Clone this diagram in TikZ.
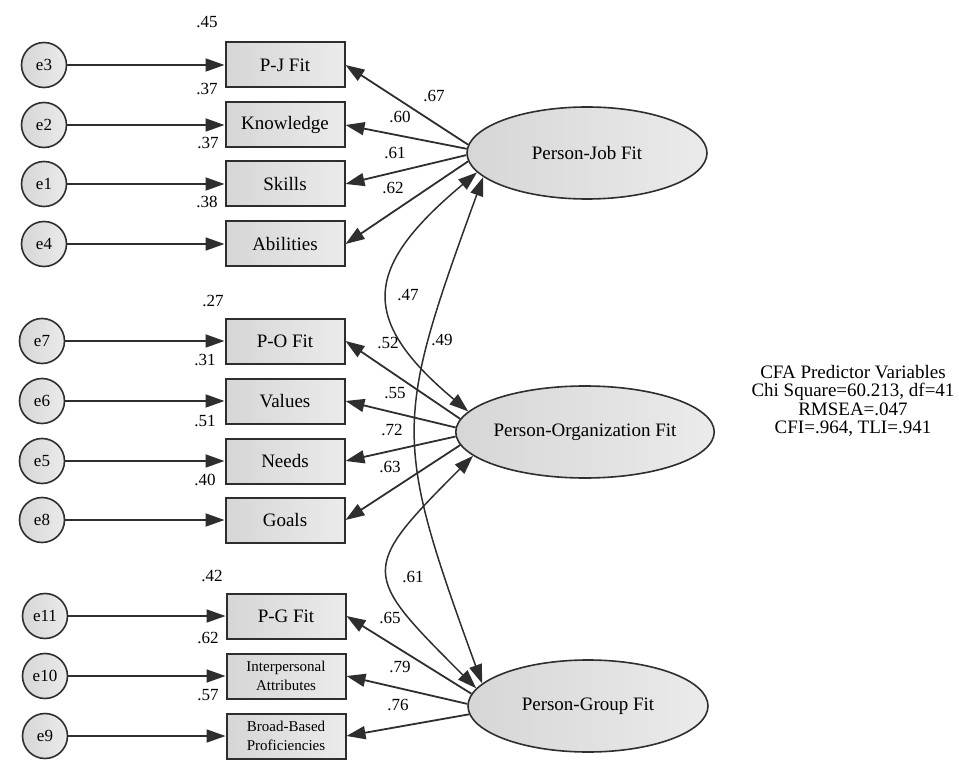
\documentclass[tikz,border=0pt]{standalone}
\usepackage{fontspec}
\setmainfont{Liberation Serif}
\usetikzlibrary{arrows.meta,shapes.geometric}

\definecolor{edge}{HTML}{2E2E2E}
\definecolor{shadeL}{HTML}{D6D6D6}
\definecolor{shadeR}{HTML}{EBEBEB}

\begin{document}
\begin{tikzpicture}[x=1pt,y=1pt,
  err/.style={circle,draw=edge,line width=1.6pt,left color=shadeL,right color=shadeR,
    minimum size=45pt,inner sep=0pt,font=\fontsize{17}{19}\selectfont},
  obs/.style={rectangle,draw=edge,line width=2pt,left color=shadeL,right color=shadeR,
    minimum width=119pt,minimum height=45pt,inner sep=0pt,align=center,font=\fontsize{19}{21}\selectfont},
  lat/.style={ellipse,draw=edge,line width=1.6pt,left color=shadeL,right color=shadeR,
    minimum width=240pt,minimum height=92pt,inner sep=0pt,font=\fontsize{19}{21}\selectfont},
  regr/.style={draw=edge,line width=1.8pt,-{Triangle[length=19pt,width=13pt]}},
  covar/.style={draw=edge,line width=1.5pt,{Triangle[length=19pt,width=13pt]}-{Triangle[length=19pt,width=13pt]}},
  coef/.style={font=\fontsize{17}{19}\selectfont,inner sep=0pt}]

\useasboundingbox (0,0) rectangle (959,-762);

% latent factors
\node [lat] (pj) at (587,-153) {Person-Job Fit};
\node [lat] (po) at (585,-432) {Person-Organization Fit};
\node [lat] (pg) at (588,-706) {Person-Group Fit};

% indicators
\node [obs] (pjfit) at (285,-65) {P-J Fit};
\node [obs] (know) at (285,-125) {Knowledge};
\node [obs] (skill) at (285,-184) {Skills};
\node [obs] (abil) at (285,-244) {Abilities};
\node [obs] (pofit) at (285,-341) {P-O Fit};
\node [obs] (value) at (285,-401) {Values};
\node [obs] (need) at (285,-461) {Needs};
\node [obs] (goal) at (285,-520) {Goals};
\node [obs] (pgfit) at (286,-616) {P-G Fit};
\node [obs,font=\fontsize{15}{19}\selectfont] (inter) at (286,-676) {Interpersonal\\Attributes};
\node [obs,font=\fontsize{15}{19}\selectfont] (broad) at (286,-736) {Broad-Based\\Proficiencies};

% error terms
\node [err] (e3) at (44,-65) {e3};
\node [err] (e2) at (44,-125) {e2};
\node [err] (e1) at (44,-184) {e1};
\node [err] (e4) at (44,-244) {e4};
\node [err] (e7) at (42,-341) {e7};
\node [err] (e6) at (42,-401) {e6};
\node [err] (e5) at (42,-461) {e5};
\node [err] (e8) at (42,-520) {e8};
\node [err] (e11) at (45,-616) {e11};
\node [err] (e10) at (45,-676) {e10};
\node [err] (e9) at (45,-736) {e9};

\draw [regr] (e3) -- (pjfit);
\draw [regr] (e2) -- (know);
\draw [regr] (e1) -- (skill);
\draw [regr] (e4) -- (abil);
\draw [regr] (e7) -- (pofit);
\draw [regr] (e6) -- (value);
\draw [regr] (e5) -- (need);
\draw [regr] (e8) -- (goal);
\draw [regr] (e11) -- (pgfit);
\draw [regr] (e10) -- (inter);
\draw [regr] (e9) -- (broad);

% loadings
\draw [regr] (pj.176) -- (pjfit.east);
\draw [regr] (pj.178) -- (know.east);
\draw [regr] (pj.181) -- (skill.east);
\draw [regr] (pj.184) -- (abil.east);
\draw [regr] (po.174) -- (pofit.east);
\draw [regr] (po.178) -- (value.east);
\draw [regr] (po.182) -- (need.east);
\draw [regr] (po.186) -- (goal.east);
\draw [regr] (pg.174) -- (pgfit.east);
\draw [regr] (pg.179) -- (inter.east);
\draw [regr] (pg.184) -- (broad.east);

% factor covariances
\draw [covar] (pj.190) to [out=220,in=140,distance=146pt] (po.170);
\draw [covar] (pj.193) to [out=250,in=110,distance=261pt] (pg.168);
\draw [covar] (po.192) to [out=225,in=135,distance=162pt] (pg.171);

% squared multiple correlations
\node [coef] at (207,-22) {.45};
\node [coef] at (207,-89) {.37};
\node [coef] at (208,-143) {.37};
\node [coef] at (207,-202) {.38};
\node [coef] at (213,-301) {.27};
\node [coef] at (205,-360) {.31};
\node [coef] at (205,-421) {.51};
\node [coef] at (205,-480) {.40};
\node [coef] at (212,-576) {.42};
\node [coef] at (208,-638) {.62};
\node [coef] at (208,-695) {.57};

% standardized estimates
\node [coef] at (434,-96) {.67};
\node [coef] at (400,-117) {.60};
\node [coef] at (395,-153) {.61};
\node [coef] at (393,-188) {.62};
\node [coef] at (388,-343) {.52};
\node [coef] at (395,-393) {.55};
\node [coef] at (392,-430) {.72};
\node [coef] at (390,-467) {.63};
\node [coef] at (390,-618) {.65};
\node [coef] at (400,-667) {.79};
\node [coef] at (398,-705) {.76};
\node [coef] at (408,-295) {.47};
\node [coef] at (442,-340) {.49};
\node [coef] at (413,-577) {.61};

\node [align=center,inner sep=0pt,font=\fontsize{19}{18.5}\selectfont] (fitinfo) at (853,-401)
  {CFA Predictor Variables\\Chi Square=60.213, df=41\\RMSEA=.047\\CFI=.964, TLI=.941};

\end{tikzpicture}
\end{document}
